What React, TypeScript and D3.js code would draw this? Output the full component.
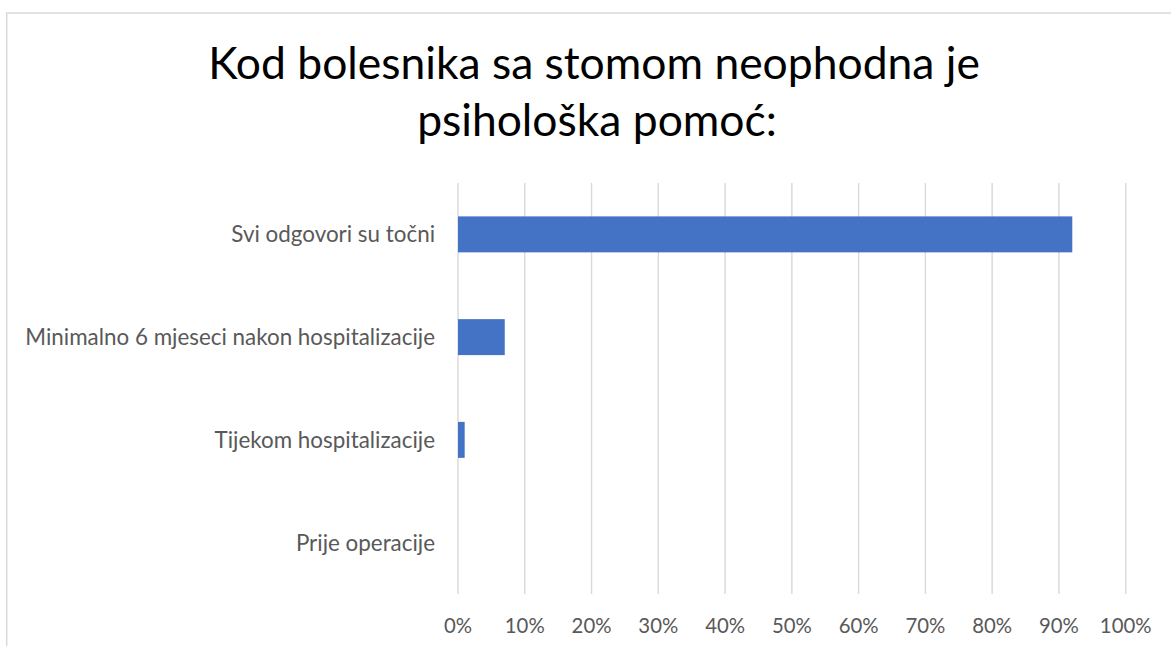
import React from "react";
import * as d3 from "d3";

const categories = [
  "Svi odgovori su točni",
  "Minimalno 6 mjeseci nakon hospitalizacije",
  "Tijekom hospitalizacije",
  "Prije operacije",
];
const values = [0.92, 0.07, 0.01, 0];
const tickValues = [0, 0.1, 0.2, 0.3, 0.4, 0.5, 0.6, 0.7, 0.8, 0.9, 1];
const titleLines = ["Kod bolesnika sa stomom neophodna je", "psihološka pomoć:"];

const W = 1171;
const H = 646;
const FONT = "Lato, 'Open Sans', sans-serif";

let ctx: CanvasRenderingContext2D | null = null;
function fitSize(text: string, target: number): number {
  if (!ctx) ctx = document.createElement("canvas").getContext("2d");
  if (!ctx) return 20;
  ctx.font = `100px ${FONT}`;
  const w = ctx.measureText(text).width;
  return (100 * target) / w;
}

export default function App() {
  const x = d3.scaleLinear().domain([0, 1]).range([458, 1125.7]);
  const y = d3
    .scaleBand<string>()
    .domain(categories)
    .range([183, 594])
    .paddingInner(0.65)
    .paddingOuter(0.325);

  const titleSize = fitSize(titleLines[0], 772);
  const catSize = fitSize(categories[1], 410);
  const tickSize = fitSize("100%", 51.7);
  const fmt = d3.format(".0%");

  return (
    <svg
      width={W}
      height={H}
      style={{ position: "absolute", left: 0, top: 0, background: "#fff" }}
    >
      <rect x={0} y={0} width={W} height={H} fill="#fff" />
      <path d={`M6.7,${H} V13 H${W}`} fill="none" stroke="#d9d9d9" strokeWidth={1.5} />
      <g fontFamily={FONT}>
        <text x={594} y={79} textAnchor="middle" fontSize={titleSize} fill="#000">
          {titleLines[0]}
        </text>
        <text x={597} y={136} textAnchor="middle" fontSize={titleSize} fill="#000">
          {titleLines[1]}
        </text>
        {tickValues.map((t) => (
          <line
            key={"g" + t}
            x1={x(t)}
            x2={x(t)}
            y1={183}
            y2={594}
            stroke="#d9d9d9"
            strokeWidth={1.4}
          />
        ))}
        {categories.map((c, i) => (
          <rect
            key={"b" + c}
            x={x(0)}
            y={y(c)}
            width={x(values[i]) - x(0)}
            height={y.bandwidth()}
            fill="#4472c4"
          />
        ))}
        {categories.map((c) => (
          <text
            key={"l" + c}
            x={435}
            y={(y(c) as number) + y.bandwidth() / 2 + 8}
            textAnchor="end"
            fontSize={catSize}
            fill="#595959"
          >
            {c}
          </text>
        ))}
        {tickValues.map((t) => (
          <text
            key={"t" + t}
            x={x(t)}
            y={633}
            textAnchor="middle"
            fontSize={tickSize}
            fill="#595959"
          >
            {fmt(t)}
          </text>
        ))}
      </g>
    </svg>
  );
}
